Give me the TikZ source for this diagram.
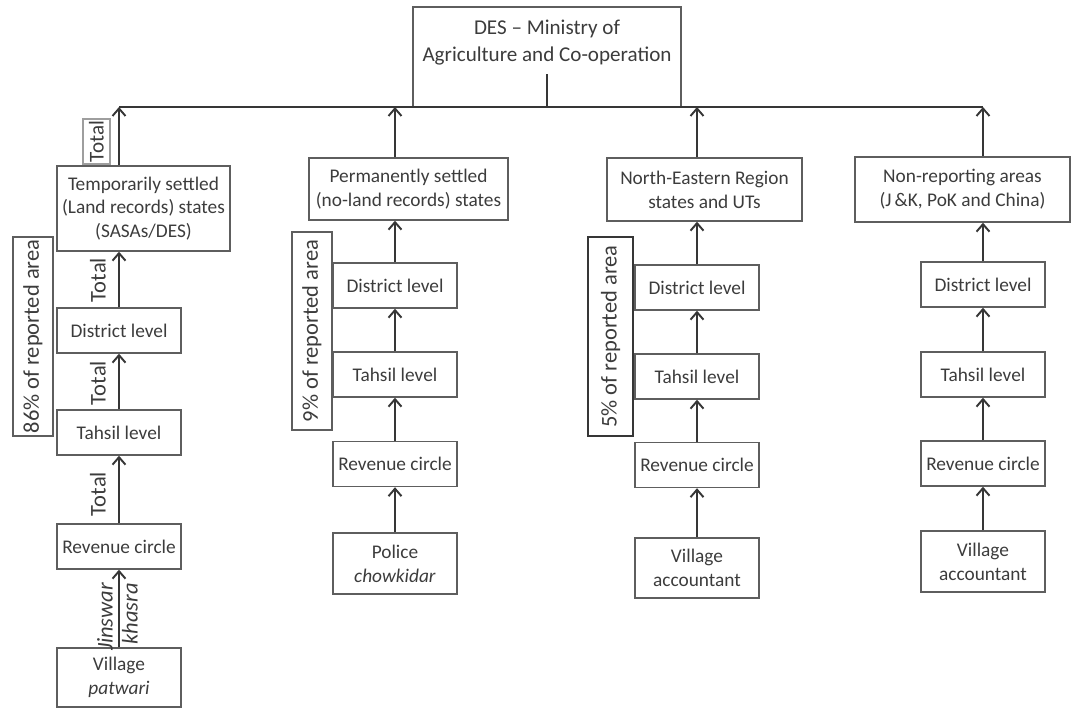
\documentclass[tikz,border=0pt]{standalone}
\usepackage{fontspec}
\setmainfont{Carlito}
\usetikzlibrary{arrows.meta}

\definecolor{boxgray}{HTML}{5E5E5E}
\definecolor{inkgray}{HTML}{363636}
\definecolor{textgray}{HTML}{3C3C3C}

\tikzset{
    levelbox/.style={draw=boxgray, line width=0.8pt, rectangle, align=center, text=textgray,
        minimum width=24.8mm, minimum height=9mm, inner sep=1pt,
        font=\fontsize{11}{13.5}\selectfont},
    sharebox/.style={levelbox, rotate=90, minimum height=8mm, font=\fontsize{12.8}{14}\selectfont},
    flowlabel/.style={rotate=90, text=textgray, inner sep=1pt, font=\fontsize{12.8}{14}\selectfont},
    flow/.style={->, draw=inkgray, line width=1.1pt},
}

\begin{document}
\begin{tikzpicture}[x=0.2mm, y=-0.2mm, >={Straight Barb[length=1.5mm, width=2.6mm]}]
    \useasboundingbox (0, 0) rectangle (1073, 709);

    % head office
    \node[levelbox, minimum width=53.6mm, minimum height=20mm] at (547, 57) (des) {};
    \node[align=center, text=textgray, font=\fontsize{12}{15.4}\selectfont] at (547, 43) (destext) {DES -- Ministry of\\Agriculture and Co-operation};
    \coordinate (stem) at (547, 74);
    \coordinate (barL) at (119, 107);
    \coordinate (barR) at (983, 107);

    % temporarily settled states
    \node[levelbox, minimum width=34.6mm, minimum height=17mm] at (143.5, 208.5) (temp) {Temporarily settled\\(Land records) states\\(SASAs/DES)};
    \node[levelbox] at (119, 330.5) (dist1) {District level};
    \node[levelbox] at (119, 432.5) (tah1) {Tahsil level};
    \node[levelbox] at (119, 546.5) (rev1) {Revenue circle};
    \node[levelbox, minimum height=11.8mm] at (119, 677.5) (vil1) {Village\\\textit{patwari}};
    \node[sharebox, minimum width=39.8mm] at (33, 336.5) (pct1) {86\% of reported area};
    \node[sharebox, draw=boxgray!60, minimum width=9mm, minimum height=5.4mm, inner sep=0pt, font=\fontsize{12}{14}\selectfont] at (96.5, 141.5) (tot0) {Total};
    \node[flowlabel] at (98, 280) (tot1) {Total};
    \node[flowlabel] at (98, 383) (tot2) {Total};
    \node[flowlabel] at (98, 494) (tot3) {Total};
    \node[flowlabel, font=\fontsize{12.8}{14}\selectfont\itshape] at (105, 617) (jin) {Jinswar};
    \node[flowlabel, font=\fontsize{12.8}{14}\selectfont\itshape] at (130, 614) (kha) {khasra};

    % permanently settled states
    \node[levelbox, minimum width=39.8mm, minimum height=12.4mm] at (408.5, 189) (perm) {Permanently settled\\(no-land records) states};
    \node[levelbox] at (395, 285.5) (dist2) {District level};
    \node[levelbox] at (395, 374.5) (tah2) {Tahsil level};
    \node[levelbox] at (395, 464) (rev2) {Revenue circle};
    \node[levelbox, minimum height=12.2mm] at (395, 563.5) (pol2) {Police\\\textit{chowkidar}};
    \node[sharebox, minimum width=39.6mm] at (312, 331) (pct2) {9\% of reported area};

    % north-eastern region
    \node[levelbox, minimum width=39mm, minimum height=12.6mm] at (704.5, 189.5) (ner) {North-Eastern Region\\states and UTs};
    \node[levelbox] at (697, 287.5) (dist3) {District level};
    \node[levelbox] at (697, 376.5) (tah3) {Tahsil level};
    \node[levelbox] at (697, 465) (rev3) {Revenue circle};
    \node[levelbox, minimum height=12mm] at (697, 568) (vac3) {Village\\accountant};
    \node[sharebox, draw=inkgray, minimum width=39.8mm, minimum height=9mm] at (610.5, 336.5) (pct3) {5\% of reported area};

    % non-reporting areas
    \node[levelbox, minimum width=43mm, minimum height=13mm] at (962.5, 189.5) (nonrep) {Non-reporting areas\\(J\,\&K, PoK and China)};
    \node[levelbox] at (983, 284.5) (dist4) {District level};
    \node[levelbox] at (983, 374.5) (tah4) {Tahsil level};
    \node[levelbox] at (983, 463.5) (rev4) {Revenue circle};
    \node[levelbox, minimum height=12.2mm] at (983, 561.5) (vac4) {Village\\accountant};

    % reporting lines
    \draw[draw=inkgray, line width=1.1pt] (stem) -- (des.south);
    \draw[draw=inkgray, line width=1.1pt] (barL) -- (barR);
    \draw[flow] (temp.north -| dist1) -- (barL);
    \draw[flow] (perm.north -| dist2) -- (barL -| dist2);
    \draw[flow] (ner.north -| dist3) -- (barL -| dist3);
    \draw[flow] (nonrep.north -| dist4) -- (barR);

    \draw[flow] (dist1) -- (temp.south -| dist1);
    \draw[flow] (tah1) -- (dist1);
    \draw[flow] (rev1) -- (tah1);
    \draw[flow] (vil1) -- (rev1);

    \draw[flow] (dist2) -- (perm.south -| dist2);
    \draw[flow] (tah2) -- (dist2);
    \draw[flow] (rev2) -- (tah2);
    \draw[flow] (pol2) -- (rev2);

    \draw[flow] (dist3) -- (ner.south -| dist3);
    \draw[flow] (tah3) -- (dist3);
    \draw[flow] (rev3) -- (tah3);
    \draw[flow] (vac3) -- (rev3);

    \draw[flow] (dist4) -- (nonrep.south -| dist4);
    \draw[flow] (tah4) -- (dist4);
    \draw[flow] (rev4) -- (tah4);
    \draw[flow] (vac4) -- (rev4);
\end{tikzpicture}
\end{document}
